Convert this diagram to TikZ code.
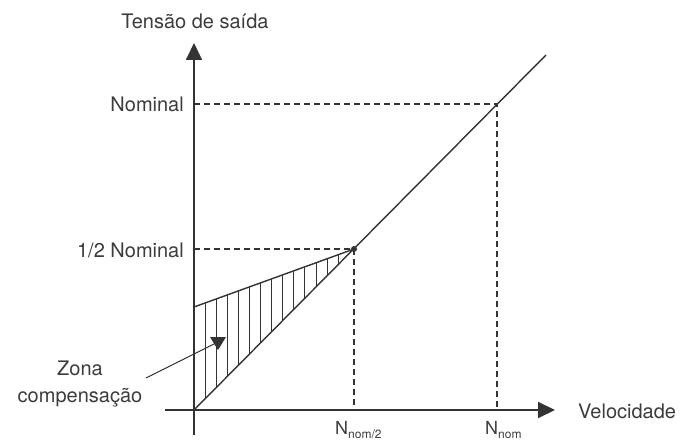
\documentclass[tikz,border=0pt]{standalone}
\usepackage{fontspec}
\setmainfont{TeX Gyre Heros}
\usepackage{tikz}
\usetikzlibrary{arrows.meta}
\usetikzlibrary{positioning}
\tikzset{>={Triangle[length=17pt,width=16pt]}}
\definecolor{ink}{HTML}{333333}
\definecolor{txt}{HTML}{3C3C3C}
\newcommand{\Nsub}[1]{N\raisebox{-0.45ex}{\fontsize{12}{12}\selectfont #1}}

\begin{document}
\begin{tikzpicture}[x=1pt, y=-1pt,
	axis/.style={draw=ink, line width=1.8pt},
	curve/.style={draw=ink, line width=1.4pt},
	guide/.style={draw=ink, line width=1.4pt, dash pattern=on 6pt off 4pt},
	hatch/.style={draw=ink, line width=0.9pt},
	lbl/.style={text=txt, font=\fontsize{20}{27}\selectfont, inner sep=0pt},
	nlbl/.style={text=txt, font=\fontsize{18}{20}\selectfont, inner sep=0pt}]
		\useasboundingbox (0,0) rectangle (684,443);
		\coordinate (O) at (194,410);
		\coordinate (ytop) at (194,43);
		\coordinate (ybot) at (194,435);
		\coordinate (xleft) at (165,410);
		\coordinate (xright) at (555,410);
		\coordinate (half) at (354,249);
		\coordinate (nom) at (497,104);
		\coordinate (dend) at (546,55);
		\coordinate (ustart) at (194,307);
		\coordinate (zfrom) at (146,378);
		\coordinate (ztip) at (218,342);

		% labels
		\node[lbl] (ylabel) at (195,21) {Tensão de saída};
		\node[lbl, anchor=east] (nomlbl) at (184,104) {Nominal};
		\node[lbl, anchor=east] (halflbl) at (184,250) {1/2 Nominal};
		\node[lbl, anchor=west] (xlabel) at (578,411) {Velocidade};
		\node[nlbl, anchor=north west] (nhalf) at (335,421) {\Nsub{nom/2}};
		\node[nlbl, anchor=north west] (nnom) at (485,421) {\Nsub{nom}};
		\node[lbl, align=center] (zona) at (80,384) {Zona\\compensação};

		% hatched zone
		\foreach \x in {205,216.1,...,338.5}
			\draw[hatch] (\x,{307-(\x-194)*0.3625}) -- (\x,{410-(\x-194)*1.00625});
		\draw[curve] (ustart) -- (half);

		% guides
		\draw[guide] (ytop |- nom) -- (nom) -- (nom |- O);
		\draw[guide] (ytop |- half) -- (half) -- (half |- O);

		% axes
		\draw[axis, ->] (ybot) -- (ytop);
		\draw[axis, ->] (xleft) -- (xright);
		\draw[curve] (O) -- (dend);
		\fill[ink] (half) circle (3pt);

		% pointer
		\draw[ink, line width=1pt] (zfrom) -- (ztip);
		\fill[ink] (ztip) ++(-8,-5) -- ++(16,0) -- ++(-8,13) -- cycle;
	\end{tikzpicture}
\end{document}
